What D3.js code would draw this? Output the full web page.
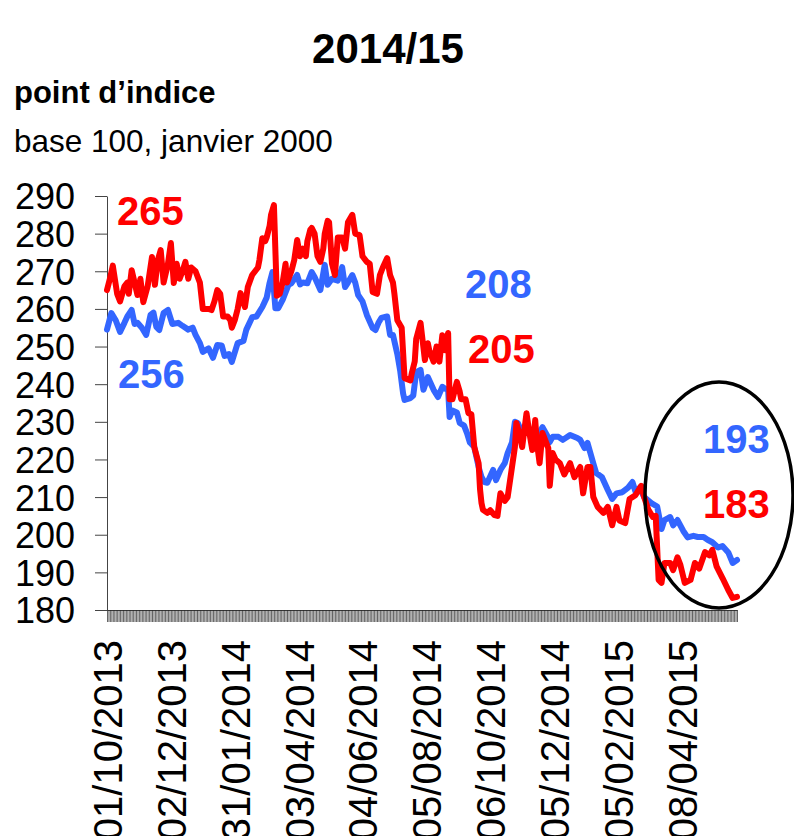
<!DOCTYPE html>
<html>
<head>
<meta charset="utf-8">
<script src="https://cdn.jsdelivr.net/npm/d3@7/dist/d3.min.js"></script>
<style>
  body { margin: 0; background: #fff; }
  svg { display: block; font-family: "Liberation Sans", Arial, sans-serif; }
</style>
</head>
<body>
<div id="chart"></div>
<script>
// --- données -----------------------------------------------------------------
// axe des catégories : jours ouvrés à partir du 01/10/2013
const startDate = new Date(2013, 9, 1);
const nDays = 435;
const labelEvery = 44;

const yTicks = [180, 190, 200, 210, 220, 230, 240, 250, 260, 270, 280, 290];

// indice du jour ouvré (0 = 01/10/2013) et valeur de l'indice
const redDays = [0, 2, 4, 7, 9, 12, 14, 15, 17, 21, 23, 25, 28, 31, 33, 35, 37, 39, 42, 44,
  46, 48, 50, 52, 54, 56, 58, 61, 64, 66, 70, 72, 74, 76, 78, 80, 83, 85, 86, 88,
  90, 92, 95, 97, 100, 102, 104, 105, 107, 109, 110, 112, 113, 115, 117, 119, 121, 123, 124, 125,
  127, 129, 131, 133, 135, 137, 138, 140, 141, 143, 145, 147, 149, 150, 152, 153, 155, 157, 159, 162,
  164, 166, 169, 171, 174, 176, 179, 181, 183, 186, 188, 190, 193, 195, 197, 198, 200, 203, 205, 209,
  210, 212, 213, 216, 217, 219, 221, 222, 225, 227, 229, 231, 233, 235, 236, 238, 241, 243, 244, 247,
  249, 251, 253, 256, 257, 258, 259, 262, 264, 267, 269, 271, 274, 276, 279, 281, 282, 284, 286, 289,
  291, 293, 295, 296, 298, 300, 302, 304, 305, 307, 309, 312, 315, 319, 322, 326, 328, 331, 333, 335,
  338, 342, 345, 348, 351, 353, 357, 360, 364, 368, 370, 373, 376, 378, 380, 382, 384, 388, 390, 393,
  395, 398, 402, 405, 408, 412, 415, 417, 420, 424, 428, 431, 434];
const redValues = [265, 268, 271.5, 264, 262, 266, 267, 264, 270.3, 263.7, 268, 261.8, 266, 273.8, 266.4, 273, 275.6, 267, 272, 277.5,
  266.9, 272, 268, 270, 272.5, 268, 271, 270, 267, 260, 260, 259.7, 262, 265, 264, 258, 258, 257, 255, 257,
  260, 264.2, 260.5, 265.8, 269, 270, 271, 273, 278.8, 278, 279, 282, 285, 287.6, 263.5, 264, 267, 272, 267, 268,
  270, 273, 278.3, 274, 276, 274, 278, 281, 281.5, 280, 274, 272.5, 276, 280, 283.4, 283, 272, 269, 279, 279,
  276, 283, 285, 280, 279.6, 274, 272.5, 272, 264.5, 264, 269, 271, 273.5, 269, 267, 264, 257, 255, 241.6, 241,
  243, 246, 252, 256.3, 253, 246.4, 250.9, 249, 246, 250, 246, 253, 249, 253.6, 236, 236, 240.6, 238, 236, 236,
  232.3, 232, 223.3, 219, 212, 208.4, 206.6, 205.8, 206.5, 205.2, 205, 211, 209, 210, 218, 223.3, 229.7, 227, 223.3, 232.3,
  227, 222.5, 230.5, 225, 219, 227, 225, 223, 213, 221.7, 220, 219, 216, 219, 215.3, 218, 211, 218, 218, 210,
  207.4, 205.8, 207.4, 202.5, 207.4, 203.8, 203.1, 209.5, 210.5, 213, 210, 206.6, 204.7, 205, 188, 187.2, 192.5, 192.5, 190.6, 194,
  192, 187.2, 188, 192.5, 191, 195.4, 194.5, 196, 191.5, 188.5, 185.3, 183.2, 183.5];

const blueDays = [0, 3, 6, 9, 12, 14, 17, 19, 21, 24, 27, 30, 32, 34, 36, 39, 42, 45, 49, 52,
  56, 59, 61, 64, 66, 70, 73, 76, 79, 81, 84, 86, 90, 94, 96, 100, 103, 107, 110, 112,
  114, 116, 118, 121, 125, 127, 131, 133, 135, 138, 141, 143, 147, 150, 152, 155, 159, 162, 164, 166,
  169, 171, 173, 176, 179, 183, 185, 187, 189, 193, 195, 197, 200, 202, 204, 205, 209, 211, 213, 216,
  218, 221, 225, 228, 231, 233, 235, 236, 238, 241, 243, 246, 248, 250, 253, 256, 258, 260, 262, 266,
  268, 271, 274, 276, 279, 281, 283, 286, 289, 293, 297, 300, 303, 305, 307, 311, 314, 319, 324, 326,
  329, 331, 335, 337, 341, 345, 348, 351, 355, 359, 362, 364, 367, 370, 375, 379, 382, 384, 388, 390,
  393, 397, 400, 404, 407, 411, 414, 417, 421, 424, 428, 431, 434];
const blueValues = [254.5, 258.9, 257, 253.9, 256.3, 258, 259.7, 256, 256.3, 255, 253.1, 258.4, 259, 255.2, 254.4, 258.9, 259.7, 256, 256.3, 255.5,
  254.5, 255, 253.1, 250.9, 248.6, 249.5, 247, 250.4, 250.3, 247.5, 248, 245.9, 250.9, 251.5, 254.5, 257.8, 258, 260.5, 263, 266.9,
  269.8, 260.2, 260.2, 262.4, 266.4, 266.8, 269, 266.5, 267, 266.8, 269.8, 268.5, 265, 271.7, 266.4, 268, 267.5, 271.1, 265.8, 267,
  269, 267, 263.7, 262, 258.4, 254.9, 254.4, 256.3, 257.6, 258, 253.1, 253.1, 248, 243.5, 237.5, 235.8, 236.3, 237, 243.2, 243.8,
  238.5, 241.9, 238.5, 236.6, 239.3, 238.8, 238.5, 231.3, 233, 232.5, 229.7, 229, 227, 224.5, 223.3, 218, 215.3, 214, 213.8, 217.2,
  214.5, 217.2, 219, 221.7, 224.5, 230, 229.7, 227, 228, 227, 226.5, 228.6, 226.5, 224.6, 226, 226, 225.2, 226.5, 225.7, 225.2,
  223, 224.4, 219, 216.4, 215.3, 211.9, 209.5, 211, 211.3, 212.5, 214, 211.5, 212.5, 210, 208.4, 207.5, 201.5, 203.9, 204.7, 202.5,
  203.9, 201, 199.3, 199.7, 199.4, 199.4, 198.6, 198, 196.6, 197, 195.3, 192.5, 193.3];

// --- construction ------------------------------------------------------------
const fmt = d3.timeFormat('%d/%m/%Y');
const categories = [];
const d = new Date(startDate);
while (categories.length < nDays) {
    const wd = d.getDay();
    if (wd !== 0 && wd !== 6) categories.push(fmt(d));
    d.setDate(d.getDate() + 1);
}

const width = 794, height = 836;
const plot = { left: 107, right: 737, top: 196, bottom: 610 };

const svg = d3.select('#chart').append('svg')
    .attr('width', width)
    .attr('height', height);

const x = d3.scalePoint()
    .domain(categories)
    .range([plot.left, plot.right]);

const y = d3.scaleLinear()
    .domain([180, 290])
    .range([plot.bottom, plot.top]);

// titres
svg.append('text')
    .attr('x', 388)
    .attr('y', 63)
    .attr('text-anchor', 'middle')
    .style('font-size', '42px')
    .style('font-weight', 'bold')
    .text('2014/15');

svg.append('text')
    .attr('x', 14)
    .attr('y', 103)
    .style('font-size', '31px')
    .style('font-weight', 'bold')
    .text('point d’indice');

svg.append('text')
    .attr('x', 14)
    .attr('y', 152)
    .style('font-size', '31.5px')
    .text('base 100, janvier 2000');

// axe Y
const yAxis = svg.append('g')
    .attr('transform', `translate(${plot.left},0)`)
    .call(d3.axisLeft(y).tickValues(yTicks).tickSize(12).tickSizeOuter(0).tickPadding(20));
yAxis.selectAll('text')
    .style('font-size', '36px')
    .style('fill', '#000')
    .attr('dy', '0.36em');
yAxis.selectAll('path, line').style('stroke', '#444');

// axe X : un trait par jour, une date tous les 44 jours
const xAxis = svg.append('g')
    .attr('transform', `translate(0,${plot.bottom})`)
    .call(d3.axisBottom(x)
        .tickSize(12)
        .tickSizeOuter(0)
        .tickFormat((c, i) => (i % labelEvery === 0 ? c : '')));
xAxis.selectAll('line').style('stroke', '#222').style('stroke-width', 0.7);
xAxis.select('path').style('stroke', '#444');
xAxis.selectAll('text')
    .attr('transform', 'rotate(-90)')
    .attr('text-anchor', 'end')
    .attr('x', -30)
    .attr('y', 0)
    .attr('dy', '0.36em')
    .style('font-size', '40px')
    .style('fill', '#000');

// courbes
const line = d3.line()
    .x(p => x(categories[p[0]]))
    .y(p => y(p[1]));

const series = [
    { days: blueDays, values: blueValues, color: '#3366ff' },
    { days: redDays, values: redValues, color: '#ff0000' }
];

series.forEach(s => {
    svg.append('path')
        .datum(s.days.map((dd, i) => [dd, s.values[i]]))
        .attr('d', line)
        .attr('fill', 'none')
        .attr('stroke', s.color)
        .attr('stroke-width', 6)
        .attr('stroke-linejoin', 'round')
        .attr('stroke-linecap', 'round');
});

// annotations
const notes = [
    { t: '265', x: 117, y: 225, c: '#ff0000' },
    { t: '256', x: 118, y: 388, c: '#3366ff' },
    { t: '208', x: 465, y: 298, c: '#3366ff' },
    { t: '205', x: 468, y: 363, c: '#ff0000' },
    { t: '193', x: 703, y: 453, c: '#3366ff' },
    { t: '183', x: 703, y: 518, c: '#ff0000' }
];
svg.selectAll('.note')
    .data(notes)
    .enter()
    .append('text')
    .attr('class', 'note')
    .attr('x', n => n.x)
    .attr('y', n => n.y)
    .style('font-size', '40px')
    .style('font-weight', 'bold')
    .style('fill', n => n.c)
    .text(n => n.t);

// ellipse autour de la fin de période
svg.append('ellipse')
    .attr('cx', 719)
    .attr('cy', 495)
    .attr('rx', 74)
    .attr('ry', 113)
    .attr('fill', 'none')
    .attr('stroke', '#000')
    .attr('stroke-width', 3.5);
</script>
</body>
</html>
